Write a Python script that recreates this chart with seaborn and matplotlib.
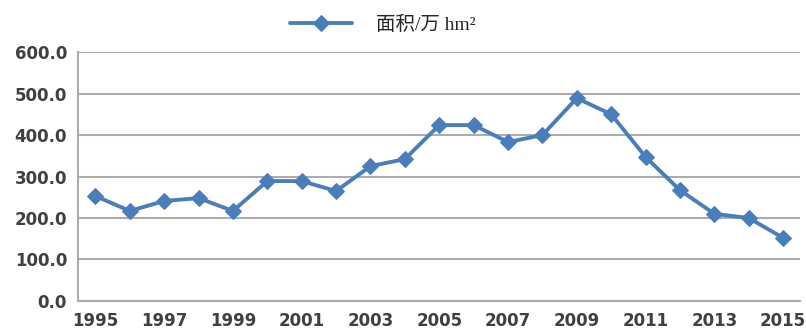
import pandas as pd
import matplotlib
matplotlib.use("Agg")
import matplotlib.pyplot as plt
import seaborn as sns

years = list(range(1995, 2016))
area = [253, 217, 241, 248, 217, 289, 289, 265, 325, 342, 424,
        424, 383, 400, 489, 450, 347, 267, 210, 200, 152]
yticks = [0, 100, 200, 300, 400, 500, 600]
xticks = list(range(1995, 2016, 2))
label = '面积/万 hm²'

df = pd.DataFrame({'year': years, 'area': area})

sns.set_style('white')
plt.rcParams['font.family'] = ['DejaVu Sans', 'Noto Sans CJK SC']

fig = plt.figure(figsize=(8.06, 3.34), dpi=100)
ax = fig.add_axes([0.097, 0.099, 0.896, 0.745])

blue = '#4a7ebb'
sns.lineplot(data=df, x='year', y='area', ax=ax, color=blue, linewidth=2.8,
             marker='D', markersize=8, markeredgecolor=blue, label=label)

ax.set_xlim(1994.5, 2015.5)
ax.set_ylim(0, 600)
ax.set_yticks(yticks)
ax.set_yticklabels([f'{v:.1f}' for v in yticks])
ax.set_xticks(xticks)
ax.set_xlabel('')
ax.set_ylabel('')
ax.grid(axis='y', color='#acacac', linewidth=1.5)
ax.set_axisbelow(True)
for s in ['top', 'right']:
    ax.spines[s].set_visible(False)
for s in ['left', 'bottom']:
    ax.spines[s].set_color('#acacac')
    ax.spines[s].set_linewidth(1.5)
ax.tick_params(axis='both', length=0, labelsize=12, labelcolor='#404040')
ax.tick_params(axis='y', pad=8)
ax.tick_params(axis='x', pad=8)
for t in ax.get_xticklabels() + ax.get_yticklabels():
    t.set_fontweight('bold')

leg = ax.legend(loc='center', bbox_to_anchor=(0.475, 0.925),
                bbox_transform=fig.transFigure, frameon=False,
                handlelength=3.2, handletextpad=1.2,
                prop={'family': ['Liberation Serif', 'Noto Sans CJK SC'], 'size': 14})

fig.savefig('out.png', dpi=100)
